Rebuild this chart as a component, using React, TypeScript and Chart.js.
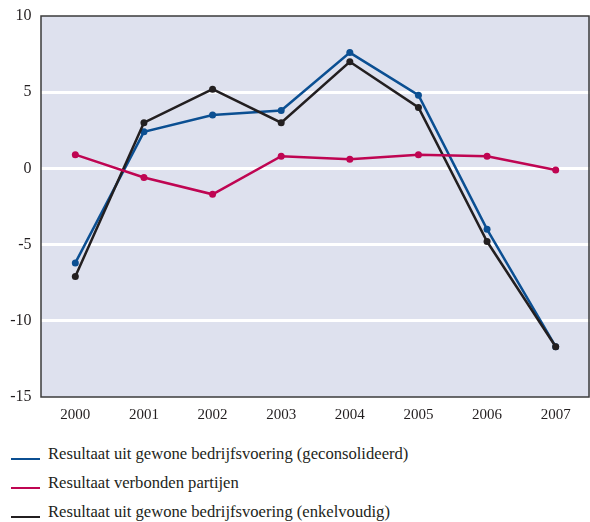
import React, { useEffect, useRef } from "react";
import { Chart, registerables } from "chart.js";

Chart.register(...registerables);

const years = ["2000", "2001", "2002", "2003", "2004", "2005", "2006", "2007"];
const geconsolideerd = [-6.2, 2.4, 3.5, 3.8, 7.6, 4.8, -4.0, -11.7];
const verbonden = [0.9, -0.6, -1.7, 0.8, 0.6, 0.9, 0.8, -0.1];
const enkelvoudig = [-7.1, 3.0, 5.2, 3.0, 7.0, 4.0, -4.8, -11.7];
const yTicks = [10, 5, 0, -5, -10, -15];

const BLUE = "#0b4f92";
const RED = "#bf0552";
const BLACK = "#231f20";
const BG = "#dee1ee";
const FONT = "'Liberation Serif', 'DejaVu Serif', serif";

const legendItems = [
  { label: "Resultaat uit gewone bedrijfsvoering (geconsolideerd)", color: BLUE },
  { label: "Resultaat verbonden partijen", color: RED },
  { label: "Resultaat uit gewone bedrijfsvoering (enkelvoudig)", color: BLACK },
];

const frame = {
  id: "frame",
  beforeDraw(chart: any) {
    const { ctx, chartArea: a } = chart;
    ctx.save();
    ctx.fillStyle = BG;
    ctx.fillRect(a.left, a.top, a.right - a.left, a.bottom - a.top);
    ctx.restore();
  },
  afterDatasetsDraw(chart: any) {
    const { ctx, chartArea: a } = chart;
    ctx.save();
    ctx.strokeStyle = "#3b3b3b";
    ctx.lineWidth = 1.5;
    ctx.strokeRect(a.left, a.top, a.right - a.left - 1, a.bottom - a.top);
    ctx.restore();
  },
};

export default function App() {
  const ref = useRef<HTMLCanvasElement>(null);
  useEffect(() => {
    if (!ref.current) return;
    const mk = (label: string, data: number[], color: string) => ({
      label,
      data,
      borderColor: color,
      backgroundColor: color,
      borderWidth: 2.5,
      pointRadius: 3.5,
      pointHoverRadius: 3.5,
      pointBorderWidth: 0,
      tension: 0,
    });
    const chart = new Chart(ref.current, {
      type: "line",
      data: {
        labels: years,
        datasets: [
          mk(legendItems[1].label, verbonden, RED),
          mk(legendItems[2].label, enkelvoudig, BLACK),
          mk(legendItems[0].label, geconsolideerd, BLUE),
        ],
      },
      options: {
        animation: false,
        responsive: false,
        maintainAspectRatio: false,
        layout: { autoPadding: false, padding: { top: 16, right: 0, left: 0, bottom: 0 } },
        plugins: { legend: { display: false }, tooltip: { enabled: false } },
        scales: {
          x: {
            offset: true,
            grid: { display: false, drawTicks: false },
            border: { display: false },
            ticks: {
              color: "#231f20",
              font: { family: FONT, size: 15 },
              padding: 9,
              maxRotation: 0,
            },
            afterFit: (s: any) => {
              s.height = 33;
            },
          },
          y: {
            min: -15,
            max: 10,
            afterBuildTicks: (s: any) => {
              s.ticks = yTicks.map((v) => ({ value: v }));
            },
            grid: {
              color: (c: any) =>
                c.tick && (c.tick.value === 10 || c.tick.value === -15) ? "rgba(0,0,0,0)" : "#ffffff",
              lineWidth: 3,
              drawTicks: false,
            },
            border: { display: false },
            ticks: {
              color: "#231f20",
              font: { family: FONT, size: 16, lineHeight: 0.7 },
              padding: 9.5,
            },
            afterFit: (s: any) => {
              s.width = 41;
            },
          },
        },
      },
      plugins: [frame],
    });
    return () => chart.destroy();
  }, []);

  return (
    <div style={{ position: "absolute", left: 0, top: 0, width: 590, height: 522, background: "#fff", overflow: "hidden" }}>
      <canvas ref={ref} width={590} height={430} style={{ display: "block", width: 590, height: 430 }} />
      {legendItems.map((it, i) => (
        <div
          key={it.label}
          style={{
            position: "absolute",
            left: 11,
            top: 444 + i * 29,
            height: 20,
            display: "flex",
            alignItems: "flex-end",
            fontFamily: FONT,
            fontSize: 16.6,
            color: "#231f20",
            whiteSpace: "nowrap",
          }}
        >
          <span
            style={{
              display: "inline-block",
              width: 29,
              height: 2.5,
              background: it.color,
              marginRight: 8,
              marginBottom: 4,
            }}
          />
          <span style={{ lineHeight: "20px" }}>{it.label}</span>
        </div>
      ))}
    </div>
  );
}
